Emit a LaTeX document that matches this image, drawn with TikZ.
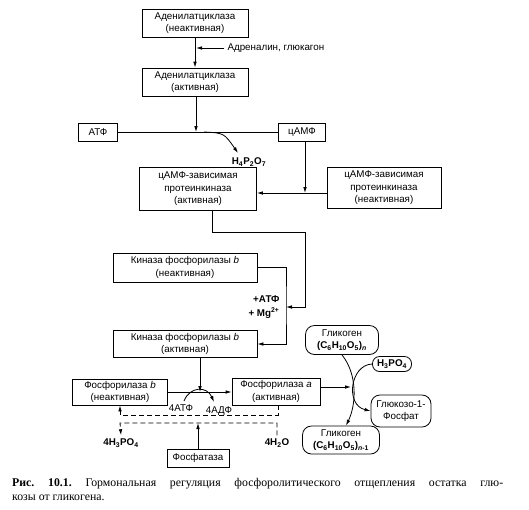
\documentclass[tikz,border=0pt]{standalone}
\usepackage{fontspec}
\setmainfont{Liberation Serif}
\setsansfont{Liberation Sans}
\usetikzlibrary{arrows.meta,positioning,calc}

\begin{document}
\begin{tikzpicture}[x=1pt, y=-1pt,
    cell/.style={draw, line width=0.8pt, align=center, inner sep=1pt, font=\sffamily\fontsize{9.8}{12.4}\selectfont},
    pill/.style={cell, rounded corners=9pt},
    lbl/.style={font=\sffamily\fontsize{9.8}{12}\selectfont},
    chem/.style={font=\sffamily\bfseries\fontsize{9.8}{12}\selectfont},
    capt/.style={anchor=west, inner sep=0pt, font=\frenchspacing\fontsize{11.8}{14}\selectfont},
    arr/.style={line width=0.8pt, -{Latex[length=6pt,width=3.6pt]}},
    darr/.style={arr, dashed, dash pattern=on 5pt off 3pt}
]
\useasboundingbox (0,0) rectangle (529,509);

% adenylate cyclase
\node[cell, minimum width=106pt, minimum height=28pt] (ac1) at (195,23) {Аденилатциклаза\\(неактивная)};
\node[lbl, anchor=west] (adrlbl) at (224,48) {Адреналин, глюкагон};
\coordinate (adr) at (196,48);
\node[cell, minimum width=106pt, minimum height=28pt] (ac2) at (195,82) {Аденилатциклаза\\(активная)};
\coordinate (j1) at (196,132);
\coordinate (j2) at (204,132);
\node[cell, minimum width=39pt, minimum height=18pt] (atp) at (98,132) {АТФ};
\node[cell, minimum width=47pt, minimum height=18pt] (camp) at (302,132) {цАМФ};
\coordinate (ppiend) at (238,153);
\node[chem] (ppi) at (249,162) {H\textsubscript{4}P\textsubscript{2}O\textsubscript{7}};

% protein kinase
\node[cell, minimum width=117pt, minimum height=43pt] (pka) at (198,189) {цАМФ-зависимая\\протеинкиназа\\(активная)};
\node[cell, minimum width=114pt, minimum height=41pt] (pki) at (384,188) {цАМФ-зависимая\\протеинкиназа\\(неактивная)};
\coordinate (j3) at (305,193);
\coordinate (p1) at (212,232);
\coordinate (p2) at (305,232);
\coordinate (p3) at (305,307);
\coordinate (p4) at (286,307);

% phosphorylase kinase
\node[cell, minimum width=144pt, minimum height=29pt] (kin) at (185,267.5) {Киназа фосфорилазы \textit{b}\\(неактивная)};
\coordinate (kbus) at (286,305);
\node[chem, anchor=east] (atplbl) at (283,299) {+АТФ};
\node[chem, anchor=east] (mglbl) at (283,313) {+ Mg\textsuperscript{2+}};
\node[cell, minimum width=144pt, minimum height=27pt] (kac) at (185,344) {Киназа фосфорилазы \textit{b}\\(активная)};
\coordinate (m1) at (200,392);

% phosphorylase
\node[cell, minimum width=95pt, minimum height=26pt] (phb) at (120,392) {Фосфорилаза \textit{b}\\(неактивная)};
\node[cell, minimum width=88pt, minimum height=27pt] (pha) at (276,391.5) {Фосфорилаза \textit{a}\\(активная)};
\coordinate (a1) at (184,401);
\coordinate (a2) at (214,402);
\node[lbl] (atp4) at (181,408) {4АТФ};
\node[lbl] (adp4) at (219,411) {4АДФ};
\coordinate (d1) at (278,415);
\coordinate (d2) at (120,415);
\coordinate (e1) at (120,423);
\node[chem] (h3lbl) at (121,443) {4H\textsubscript{3}PO\textsubscript{4}};
\node[chem] (h2o) at (277,443) {4H\textsubscript{2}O};
\node[cell, minimum width=62pt, minimum height=18pt] (phos) at (198,458) {Фосфатаза};

% glycogen
\node[pill, minimum width=73pt, minimum height=29pt] (gly1) at (342,340) {Гликоген\\\textbf{(C\textsubscript{6}H\textsubscript{10}O\textsubscript{5})\textsubscript{\textit{n}}}};
\node[pill, rounded corners=7pt, minimum width=39pt, minimum height=15pt] (h3po4) at (392,364) {\textbf{H\textsubscript{3}PO\textsubscript{4}}};
\node[pill, minimum width=60pt, minimum height=32pt] (g1p) at (401,411) {Глюкозо-1-\\Фосфат};
\node[pill, minimum width=77pt, minimum height=28pt] (gly2) at (341,440) {Гликоген\\\textbf{(C\textsubscript{6}H\textsubscript{10}O\textsubscript{5})\textsubscript{\textit{n}-1}}};
\coordinate (g0) at (351,387);

% caption
\node[capt] (cap1) at (12,484) {\makebox[491pt][s]{\textbf{Рис. 10.1.} Гормональная регуляция фосфоролитического отщепления остатка глю-}};
\node[capt] (cap2) at (12,498) {козы от гликогена.};

% connectors
\draw[arr] (ac1) -- (ac2);
\draw[arr] (adrlbl.west) -- (adr);
\draw[arr] (ac2.south -| j1) -- (j1);
\draw[line width=0.8pt] (atp) -- (camp);
\draw[arr] (j2) .. controls (224,133) .. (ppiend);
\draw[arr] (camp.south -| j3) -- (j3);
\draw[arr] (pki.west |- j3) -- (pka.east |- j3);
\draw[arr] (pka.south -| p1) -- (p1) -- (p2) -- (p3) -- (p4);
\draw[arr] (kin.east) -| (kbus) |- (kac.east);
\draw[arr] (kac.south -| m1) -- (m1);
\draw[arr] (phb.east |- m1) -- (pha.west |- m1);
\draw[arr] (a1) .. controls (190,386) and (207,386) .. (a2);
\draw[darr] (pha.south -| d1) -- (d1) -- (d2) -- (phb.south -| d2);
\draw[darr] (h2o.north) |- (e1) -- (h3lbl.north);
\draw[arr] (phos.north) -- (phos.north |- e1);
\draw[arr] (gly1.south) .. controls (358,375) and (356,405) .. ([xshift=5pt]gly2.north);
\draw[arr] (pha.east |- g0) -- (g0);
\draw[arr] (h3po4.west) .. controls (350,365) and (345,405) .. (g1p.west);
\end{tikzpicture}
\end{document}
